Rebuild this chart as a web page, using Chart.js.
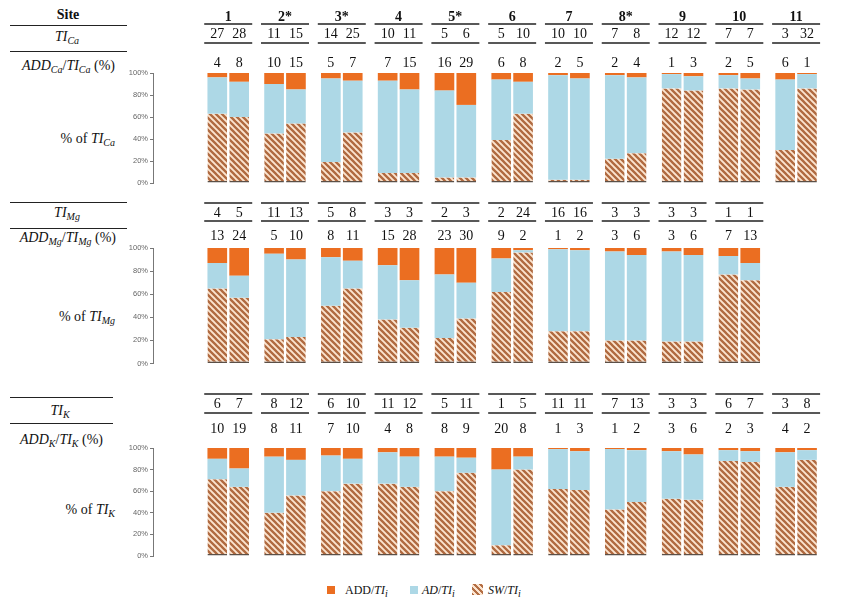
<!DOCTYPE html>
<html>
<head>
<meta charset="utf-8">
<script src="https://cdn.jsdelivr.net/npm/chart.js@4.4.1/dist/chart.umd.min.js"></script>
<style>
  html, body { margin: 0; padding: 0; width: 859px; height: 601px; overflow: hidden; background: #fff; }
  canvas { position: absolute; left: 0; }
  .lbl { position: absolute; font-family: 'Liberation Serif', serif; font-size: 14px; line-height: 14px; white-space: nowrap; color: #111; }
  .lbl i { font-style: italic; }
  .lbl sub { font-size: 10px; vertical-align: -3px; line-height: 0; font-style: italic; }
  .rule { position: absolute; border-top: 1.5px solid #222; height: 0; }
  .key { position: absolute; }
</style>
</head>
<body>

<!-- row labels on the left -->
<div class="lbl" style="left:18px;width:100px;top:8px;text-align:center;font-weight:bold;">Site</div>
<div class="rule" style="left:10px;width:117px;top:25px;"></div>
<div class="lbl" style="left:17px;width:100px;top:30px;text-align:center;"><i>TI</i><sub>Ca</sub></div>
<div class="rule" style="left:10px;width:117px;top:51px;"></div>
<div class="lbl" style="left:0;width:115px;top:59px;text-align:right;"><i>ADD</i><sub>Ca</sub>/<i>TI</i><sub>Ca</sub> (%)</div>
<div class="lbl" style="left:0;width:115px;top:132px;text-align:right;">% of <i>TI</i><sub>Ca</sub></div>

<div class="rule" style="left:10px;width:117px;top:202px;"></div>
<div class="lbl" style="left:17px;width:100px;top:206px;text-align:center;"><i>TI</i><sub>Mg</sub></div>
<div class="rule" style="left:10px;width:117px;top:228px;"></div>
<div class="lbl" style="left:0;width:116px;top:231px;text-align:right;"><i>ADD</i><sub>Mg</sub>/<i>TI</i><sub>Mg</sub> (%)</div>
<div class="lbl" style="left:0;width:115px;top:310px;text-align:right;">% of <i>TI</i><sub>Mg</sub></div>

<div class="rule" style="left:10px;width:103px;top:397px;"></div>
<div class="lbl" style="left:10px;width:100px;top:404px;text-align:center;"><i>TI</i><sub>K</sub></div>
<div class="rule" style="left:10px;width:103px;top:423px;"></div>
<div class="lbl" style="left:0;width:103px;top:433px;text-align:right;"><i>ADD</i><sub>K</sub>/<i>TI</i><sub>K</sub> (%)</div>
<div class="lbl" style="left:0;width:115px;top:503px;text-align:right;">% of <i>TI</i><sub>K</sub></div>

<canvas id="caChart" width="900" height="190" style="top:0px"></canvas>
<canvas id="mgChart" width="900" height="175" style="top:195px"></canvas>
<canvas id="kChart" width="900" height="180" style="top:385px"></canvas>

<!-- legend -->
<div class="key" style="left:327px;top:586px;width:8px;height:8px;background:#eb6e21;"></div>
<div class="lbl" style="left:345px;top:584px;font-size:12px;line-height:12px;">ADD/<i>TI</i><sub>i</sub></div>
<div class="key" style="left:410px;top:586px;width:8px;height:8px;background:#add8e6;"></div>
<div class="lbl" style="left:422px;top:584px;font-size:12px;line-height:12px;"><i>AD</i>/<i>TI</i><sub>i</sub></div>
<div class="key" style="left:472px;top:584px;width:11px;height:11px;background:repeating-linear-gradient(45deg,#b46f45 0 2px,#fbe4cf 2px 4.2px);"></div>
<div class="lbl" style="left:488px;top:584px;font-size:12px;line-height:12px;"><i>SW</i>/<i>TI</i><sub>i</sub></div>

<script>
// sites and their slot on the x axis
const sites = ['1', '2*', '3*', '4', '5*', '6', '7', '8*', '9', '10', '11'];
const sitePos = [1, 2, 3, 4, 5, 6, 7, 8, 9, 10, 11];

// Ca: two bars per site (a, b)
const caTI1 = [27, 11, 14, 10, 5, 5, 10, 7, 12, 7, 3];
const caTI2 = [28, 15, 25, 11, 6, 10, 10, 8, 12, 7, 32];
const caADD1 = [4, 10, 5, 7, 16, 6, 2, 2, 1, 2, 6];
const caADD2 = [8, 15, 7, 15, 29, 8, 5, 4, 3, 5, 1];
const caAD1 = [33, 45, 76, 84, 79, 55, 95, 76, 13, 12, 64];
const caAD2 = [32, 31, 47, 76, 66, 29, 92, 69, 13, 10, 13];
const caSW1 = [63, 45, 19, 9, 5, 39, 3, 22, 86, 86, 30];
const caSW2 = [60, 54, 46, 9, 5, 63, 3, 27, 84, 85, 86];

// Mg (no site 11)
const mgTI1 = [4, 11, 5, 3, 2, 2, 16, 3, 3, 1, null];
const mgTI2 = [5, 13, 8, 3, 3, 24, 16, 3, 3, 1, null];
const mgADD1 = [13, 5, 8, 15, 23, 9, 1, 3, 3, 7, null];
const mgADD2 = [24, 10, 11, 28, 30, 2, 2, 6, 6, 13, null];
const mgAD1 = [22, 74, 42, 47, 55, 29, 71, 77, 78, 16, null];
const mgAD2 = [19, 67, 24, 41, 31, 2, 70, 74, 75, 15, null];
const mgSW1 = [65, 21, 50, 38, 22, 62, 28, 20, 19, 77, null];
const mgSW2 = [57, 23, 65, 31, 39, 96, 28, 20, 19, 72, null];

// K
const kTI1 = [6, 8, 6, 11, 5, 1, 11, 7, 3, 6, 3];
const kTI2 = [7, 12, 10, 12, 11, 5, 11, 13, 3, 7, 8];
const kADD1 = [10, 8, 7, 4, 8, 20, 1, 1, 3, 2, 4];
const kADD2 = [19, 11, 10, 8, 9, 8, 3, 2, 6, 3, 2];
const kAD1 = [19, 52, 33, 29, 32, 70, 37, 56, 44, 10, 32];
const kAD2 = [17, 33, 23, 28, 14, 12, 36, 48, 42, 10, 9];
const kSW1 = [71, 40, 60, 67, 60, 10, 62, 43, 53, 88, 64];
const kSW2 = [64, 56, 67, 64, 77, 80, 61, 50, 52, 87, 89];

const yTicks = [0, 20, 40, 60, 80, 100];

const ORANGE = '#eb6e21';
const BLUE = '#add8e6';

Chart.defaults.font.family = "'Liberation Sans', Arial, sans-serif";

// diagonal hatch for the SW part
function makeHatch() {
    const c = document.createElement('canvas');
    c.width = 6; c.height = 6;
    const g = c.getContext('2d');
    g.fillStyle = '#fbe4cf';
    g.fillRect(0, 0, 6, 6);
    g.strokeStyle = '#b06a40';
    g.lineWidth = 2.3;
    g.beginPath();
    g.moveTo(-1, -1); g.lineTo(7, 7);
    g.moveTo(-1, 5); g.lineTo(1, 7);
    g.moveTo(5, -1); g.lineTo(7, 1);
    g.stroke();
    return g.createPattern(c, 'repeat');
}
const hatch = makeHatch();

// draws the little table (site names, TI and ADD numbers) above each bar pair
const tableRows = {
    id: 'tableRows',
    afterDraw(chart, args, opts) {
        const ctx = chart.ctx;
        const top = chart.chartArea.top;
        const xs = chart.scales.x;
        const metaA = chart.getDatasetMeta(0);
        const metaB = chart.getDatasetMeta(3);
        ctx.save();
        ctx.fillStyle = '#111';
        ctx.strokeStyle = '#222';
        ctx.lineWidth = 1.5;
        ctx.textAlign = 'center';
        ctx.textBaseline = 'middle';
        for (let i = 0; i < sitePos.length; i++) {
            if (opts.ti1[i] == null) continue;
            const cx = xs.getPixelForValue(sitePos[i]);
            const xa = metaA.data[i].x;
            const xb = metaB.data[i].x;
            if (opts.siteRow != null) {
                ctx.font = "bold 14px 'Liberation Serif'";
                ctx.fillText(sites[i], cx, top + opts.siteRow);
            }
            ctx.beginPath();
            ctx.moveTo(cx - 24, top + opts.line1); ctx.lineTo(cx + 24, top + opts.line1);
            ctx.moveTo(cx - 24, top + opts.line2); ctx.lineTo(cx + 24, top + opts.line2);
            ctx.stroke();
            ctx.font = "14px 'Liberation Serif'";
            ctx.fillText(opts.ti1[i], xa, top + opts.tiRow);
            ctx.fillText(opts.ti2[i], xb, top + opts.tiRow);
            ctx.fillText(opts.add1[i], xa, top + opts.addRow);
            ctx.fillText(opts.add2[i], xb, top + opts.addRow);
        }
        ctx.restore();
    }
};

function swSet(data, stack) {
    return {
        label: 'SW', data: data, stack: stack, backgroundColor: hatch,
        borderColor: '#5b5048', borderWidth: { top: 0, left: 0, right: 0, bottom: 1.5 }, borderSkipped: false
    };
}
function plainSet(label, data, stack, color) {
    return { label: label, data: data, stack: stack, backgroundColor: color, borderWidth: 0 };
}

function makeChart(id, padTop, padBottom, sw1, ad1, add1, sw2, ad2, add2, rows) {
    const ctx = document.getElementById(id).getContext('2d');
    return new Chart(ctx, {
        type: 'bar',
        data: {
            labels: sitePos,
            datasets: [
                swSet(sw1, 'a'),
                plainSet('AD', ad1, 'a', BLUE),
                plainSet('ADD', add1, 'a', ORANGE),
                swSet(sw2, 'b'),
                plainSet('AD', ad2, 'b', BLUE),
                plainSet('ADD', add2, 'b', ORANGE)
            ]
        },
        options: {
            responsive: false,
            animation: false,
            devicePixelRatio: 1,
            categoryPercentage: 0.77,
            barPercentage: 0.9,
            layout: { padding: { left: 113, right: 0, top: padTop, bottom: padBottom } },
            scales: {
                x: { type: 'linear', stacked: true, min: 0.615, max: 11.89, display: false },
                y: {
                    stacked: true, min: 0, max: 100,
                    afterBuildTicks: s => { s.ticks = yTicks.map(v => ({ value: v })); },
                    afterFit: s => { s.width = 40; },
                    ticks: { callback: v => v + '%', color: '#666', padding: 2, font: { size: 7.5 } },
                    grid: { drawOnChartArea: false, drawTicks: true, tickLength: 3, color: '#777' },
                    border: { display: true, color: '#777', width: 1 }
                }
            },
            plugins: {
                legend: { display: false },
                tooltip: { enabled: false },
                tableRows: rows
            }
        },
        plugins: [tableRows]
    });
}

makeChart('caChart', 73, 7, caSW1, caAD1, caADD1, caSW2, caAD2, caADD2,
    { siteRow: -56, line1: -49, tiRow: -39, line2: -30, addRow: -10,
      ti1: caTI1, ti2: caTI2, add1: caADD1, add2: caADD2 });

makeChart('mgChart', 53, 6, mgSW1, mgAD1, mgADD1, mgSW2, mgAD2, mgADD2,
    { siteRow: null, line1: -45, tiRow: -35, line2: -27, addRow: -12,
      ti1: mgTI1, ti2: mgTI2, add1: mgADD1, add2: mgADD2 });

makeChart('kChart', 63, 9, kSW1, kAD1, kADD1, kSW2, kAD2, kADD2,
    { siteRow: null, line1: -54, tiRow: -44, line2: -35, addRow: -18.5,
      ti1: kTI1, ti2: kTI2, add1: kADD1, add2: kADD2 });
</script>
</body>
</html>
